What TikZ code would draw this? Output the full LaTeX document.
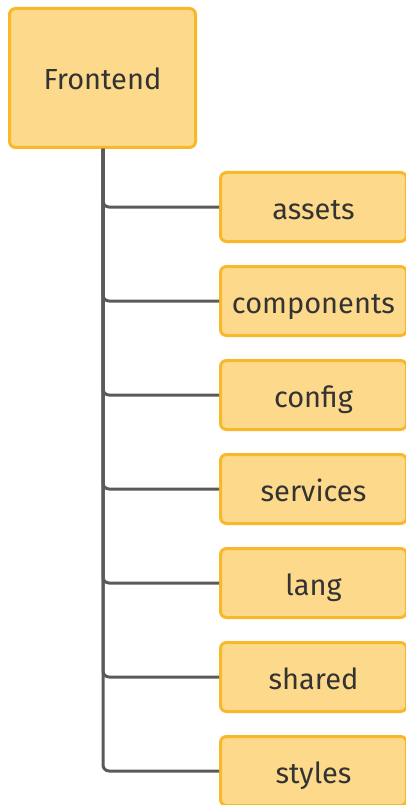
\documentclass[tikz,border=0pt]{standalone}
\usepackage{fontspec}
\setmainfont{Fira Sans}
\definecolor{boxfill}{HTML}{FDDA8B}
\definecolor{boxedge}{HTML}{F8B82A}
\definecolor{wire}{HTML}{5A5A5A}
\definecolor{ink}{HTML}{333333}
\begin{document}
\begin{tikzpicture}[x=1pt,y=-1pt,
  folder/.style={draw=boxedge, fill=boxfill, line width=3pt, rounded corners=6pt,
    text=ink, font=\fontsize{29}{34}\selectfont, inner sep=0pt,
    text height=24pt, text depth=0pt},
  rootbox/.style={folder, minimum width=186pt, minimum height=139pt},
  subbox/.style={folder, minimum width=186pt, minimum height=69pt},
  link/.style={draw=wire, line width=3pt, rounded corners=6pt}]
\useasboundingbox (0,0) rectangle (406,805);
\clip (0,0) rectangle (406,805);

% folder boxes
\node[rootbox] (root) at (102.5,78) {Frontend};
\coordinate (trunk) at (103,149);

\node[subbox] (assets)     at (313.5,207) {assets};
\node[subbox] (components) at (313.5,301) {components};
\node[subbox] (config)     at (313.5,395) {config};
\node[subbox] (services)   at (313.5,489) {services};
\node[subbox] (lang)       at (313.5,583) {lang};
\node[subbox] (shared)     at (313.5,677) {shared};
\node[subbox] (styles)     at (313.5,771) {styles};

% tree connectors: shared trunk, one elbow per child
\foreach \n in {assets,components,config,services,lang,shared,styles}
  \draw[link] (trunk) |- (\n.west);
\end{tikzpicture}
\end{document}
